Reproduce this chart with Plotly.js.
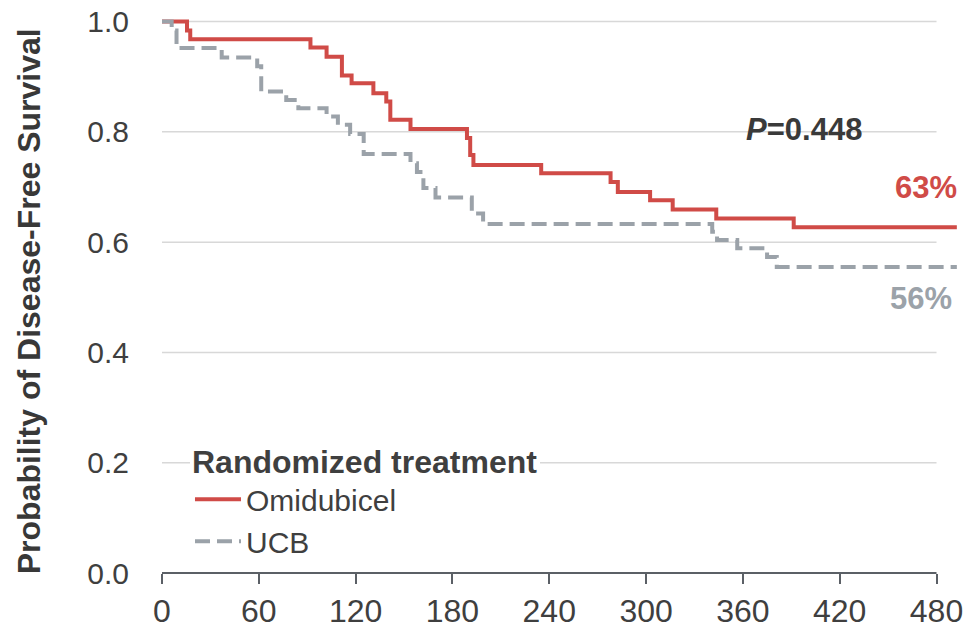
<!DOCTYPE html>
<html><head><meta charset="utf-8">
<script src="https://cdn.plot.ly/plotly-3.0.1.min.js"></script>
<style>html,body{margin:0;padding:0;background:#fff}#chart{width:964px;height:634px}</style>
</head><body><div id="chart"></div>
<script>
// Kaplan-Meier step data (days, survival probability)
const omiDays = [0, 15.5, 17.5, 92, 102, 111.5, 117.5, 131, 139, 141.5, 154, 189, 191, 193, 235, 278, 282.5, 302.5, 316.5, 343.5, 391.5, 492.6];
const omiSurv = [1.0, 0.984, 0.968, 0.953, 0.936, 0.902, 0.888, 0.870, 0.855, 0.822, 0.805, 0.789, 0.758, 0.740, 0.725, 0.709, 0.691, 0.676, 0.659, 0.643, 0.627, 0.627];
const ucbDays = [0, 6, 9, 37, 59, 61.5, 77, 84.5, 102, 109, 116.6, 125, 154, 158, 162, 169.5, 192, 199, 341, 344, 356.5, 375, 381, 492.6];
const ucbSurv = [1.0, 0.984, 0.952, 0.935, 0.919, 0.873, 0.858, 0.843, 0.828, 0.813, 0.796, 0.760, 0.743, 0.727, 0.698, 0.681, 0.652, 0.633, 0.619, 0.604, 0.589, 0.573, 0.555, 0.555];
const seriesNames = ['Omidubicel', 'UCB'];
const xTicks = [0, 60, 120, 180, 240, 300, 360, 420, 480];
const yTicks = [0, 0.2, 0.4, 0.6, 0.8, 1.0];
const yTickText = ['0.0', '0.2', '0.4', '0.6', '0.8', '1.0'];
const legendTitle = 'Randomized treatment';
const yTitle = 'Probability of Disease-Free Survival';
const pLabel = '<i>P</i>=0.448';
const omiEndLabel = '63%';
const ucbEndLabel = '56%';

const RED = '#d04b47', GRAY = '#9ba2a9', TXT = '#3f3f3f', AX = '#5b6066';
const FONT = '"Liberation Sans", Arial, Helvetica, sans-serif';

const traces = [
  {x: omiDays, y: omiSurv, name: seriesNames[0], type: 'scatter', mode: 'lines',
   line: {shape: 'hv', color: RED, width: 4}},
  {x: ucbDays, y: ucbSurv, name: seriesNames[1], type: 'scatter', mode: 'lines',
   line: {shape: 'hv', color: GRAY, width: 4, dash: '15px,7px'}}
];

const xMax = xTicks[xTicks.length - 1];
const shapes = yTicks.filter(v => v > 0).map(v => ({
  type: 'line', xref: 'x', yref: 'y', x0: 0, x1: xMax, y0: v, y1: v,
  line: {color: '#d8d8d8', width: 1.5}, layer: 'below'
}));
shapes.push({type: 'line', xref: 'x', yref: 'paper', x0: 0, x1: xMax, y0: 0, y1: 0,
  line: {color: AX, width: 2}, layer: 'above'});

const layout = {
  width: 964, height: 634,
  margin: {l: 162, r: 7, t: 10, b: 61},
  paper_bgcolor: '#fff', plot_bgcolor: '#fff',
  font: {family: FONT, color: TXT},
  showlegend: true,
  xaxis: {
    range: [0, 492.7], tickvals: xTicks, ticktext: xTicks.map(String),
    showgrid: false, zeroline: false, showline: false,
    ticks: 'outside', ticklen: 10, tickwidth: 2, tickcolor: AX,
    ticklabeloverflow: 'allow',
    tickfont: {family: FONT, size: 32, color: TXT},
    fixedrange: true
  },
  yaxis: {
    range: [0, 1.021], tickvals: yTicks, ticktext: yTickText,
    showgrid: false, zeroline: false, showline: false, ticks: '',
    ticklabelstandoff: 32,
    tickfont: {family: FONT, size: 30, color: TXT},
    automargin: false, fixedrange: true
  },
  legend: {
    x: 0.0352, xanchor: 'left', y: 0.251, yanchor: 'top',
    bgcolor: '#ffffff', borderwidth: 0,
    font: {family: FONT, size: 30, color: TXT},
    title: {text: '<b>' + legendTitle + '</b>', font: {family: FONT, size: 32, color: TXT}},
    itemwidth: 46, tracegroupgap: 0
  },
  shapes: shapes,
  annotations: [
    {xref: 'paper', yref: 'paper', x: -0.1673, y: 0.4826, text: '<b>' + yTitle + '</b>', textangle: -90,
     showarrow: false, xanchor: 'center', yanchor: 'middle',
     font: {family: FONT, size: 32, color: '#383838'}},
    {xref: 'x', yref: 'y', x: 397.6, y: 0.804, text: '<b>' + pLabel + '</b>', showarrow: false,
     font: {family: FONT, size: 31, color: '#3a3a3a'}},
    {xref: 'x', yref: 'y', x: 473.5, y: 0.700, text: '<b>' + omiEndLabel + '</b>', showarrow: false,
     font: {family: FONT, size: 31, color: RED}},
    {xref: 'x', yref: 'y', x: 470.4, y: 0.498, text: '<b>' + ucbEndLabel + '</b>', showarrow: false,
     font: {family: FONT, size: 31, color: GRAY}}
  ]
};

Plotly.newPlot('chart', traces, layout, {displayModeBar: false, staticPlot: true});
</script>
</body></html>
